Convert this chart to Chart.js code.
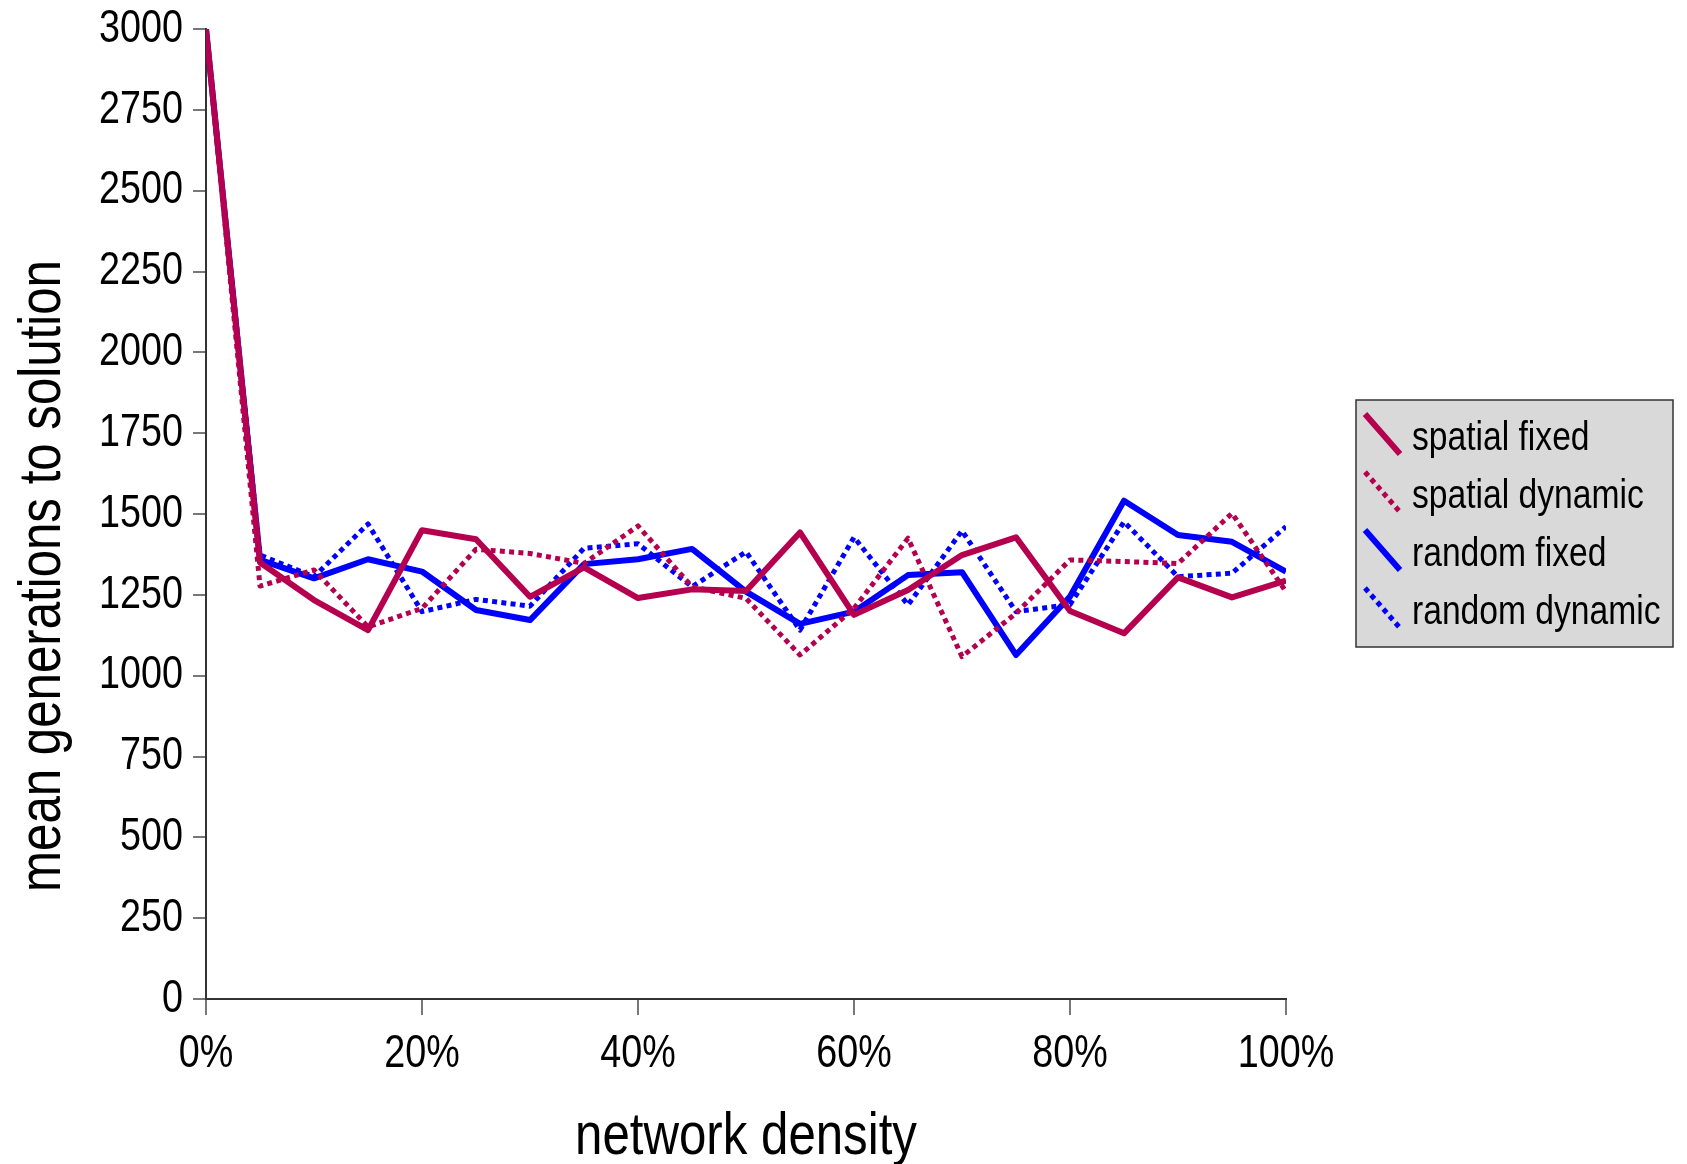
<!DOCTYPE html>
<html>
<head>
<meta charset="utf-8">
<script src="https://cdn.jsdelivr.net/npm/chart.js@4/dist/chart.umd.min.js"></script>
<style>
  html, body { margin: 0; padding: 0; background: #ffffff; }
  #wrap { width: 1687px; height: 1164px; position: relative; }
</style>
</head>
<body>
<div id="wrap"><canvas id="chart"></canvas></div>
<script>
// Network density (%) at which each run was measured
const densities = [0, 5, 10, 15, 20, 25, 30, 35, 40, 45, 50, 55, 60, 65, 70, 75, 80, 85, 90, 95, 100];

// Mean generations to solution for each network type
const spatialFixed   = [3000, 1350, 1234, 1141, 1450, 1422, 1244, 1335, 1240, 1267, 1262, 1443, 1188, 1265, 1373, 1428, 1200, 1131, 1304, 1242, 1294];
const spatialDynamic = [3000, 1277, 1327, 1151, 1208, 1391, 1378, 1347, 1463, 1275, 1239, 1064, 1208, 1425, 1059, 1193, 1358, 1353, 1347, 1502, 1260];
const randomFixed    = [3000, 1358, 1301, 1360, 1322, 1203, 1172, 1345, 1360, 1392, 1260, 1160, 1198, 1311, 1320, 1064, 1245, 1541, 1435, 1414, 1322];
const randomDynamic  = [3000, 1373, 1306, 1469, 1198, 1236, 1215, 1394, 1408, 1275, 1383, 1141, 1428, 1219, 1448, 1198, 1220, 1476, 1306, 1317, 1461];

const seriesNames = ['spatial fixed', 'spatial dynamic', 'random fixed', 'random dynamic'];
const xAxisTitle = 'network density';
const yAxisTitle = 'mean generations to solution';

const yTicksMax = 3000;
const yTicksStep = 250;
const xTicksStep = 20;

const CRIMSON = '#B4004E';
const BLUE = '#0000FF';
const FONT = "'Liberation Sans', Arial, sans-serif";
const NARROW = 0.82;   // horizontal squeeze giving a condensed face

function points(values) {
  return values.map((v, i) => ({ x: densities[i], y: v }));
}

const solidStyle  = { borderDash: [],       borderWidth: 6 };
const dottedStyle = { borderDash: [5, 4.3], borderWidth: 5 };

const datasets = [
  Object.assign({ label: seriesNames[0], data: points(spatialFixed),   borderColor: CRIMSON }, solidStyle),
  Object.assign({ label: seriesNames[1], data: points(spatialDynamic), borderColor: CRIMSON }, dottedStyle),
  Object.assign({ label: seriesNames[2], data: points(randomFixed),    borderColor: BLUE },    solidStyle),
  Object.assign({ label: seriesNames[3], data: points(randomDynamic),  borderColor: BLUE },    dottedStyle)
].map(d => Object.assign(d, {
  pointRadius: 0,
  pointHoverRadius: 0,
  tension: 0,
  fill: false,
  borderJoinStyle: 'round',
  borderCapStyle: 'butt'
}));

// Condensed text: every string drawn on this canvas is squeezed horizontally
// around its anchor point, so alignment (left/center/right) is preserved.
const canvas = document.getElementById('chart');
const ctx2d = canvas.getContext('2d');
const baseFillText = CanvasRenderingContext2D.prototype.fillText;
ctx2d.fillText = function (text, x, y, maxWidth) {
  this.save();
  this.translate(x, y);
  this.scale(NARROW, 1);
  if (maxWidth === undefined || maxWidth === null) {
    baseFillText.call(this, text, 0, 0);
  } else {
    baseFillText.call(this, text, 0, 0, maxWidth / NARROW);
  }
  this.restore();
};

// Vertical axis title, centred on the page height rather than the plot
const yTitle = {
  id: 'yTitle',
  afterDraw(chart) {
    const ctx = chart.ctx;
    ctx.save();
    ctx.translate(43, 576);
    ctx.rotate(-Math.PI / 2);
    ctx.fillStyle = '#000000';
    ctx.font = '60px ' + FONT;
    ctx.textAlign = 'center';
    ctx.textBaseline = 'middle';
    ctx.fillText(yAxisTitle, 0, 0);
    ctx.restore();
  }
};

// Boxed legend with diagonal line swatches, drawn to the right of the plot
const boxLegend = {
  id: 'boxLegend',
  afterDraw(chart) {
    const ctx = chart.ctx;
    const box = { x: 1356, y: 400, w: 317, h: 247 };
    ctx.save();
    ctx.fillStyle = '#D9D9D9';
    ctx.fillRect(box.x, box.y, box.w, box.h);
    ctx.strokeStyle = '#333333';
    ctx.lineWidth = 1.5;
    ctx.strokeRect(box.x, box.y, box.w, box.h);

    const rowStep = 58;
    chart.data.datasets.forEach((ds, i) => {
      const top = 414 + i * rowStep;
      ctx.strokeStyle = ds.borderColor;
      ctx.lineWidth = ds.borderWidth;
      ctx.setLineDash(ds.borderDash || []);
      ctx.lineCap = 'butt';
      ctx.beginPath();
      ctx.moveTo(1365, top);
      ctx.lineTo(1400, top + 40);
      ctx.stroke();
      ctx.setLineDash([]);

      ctx.fillStyle = '#000000';
      ctx.font = '41px ' + FONT;
      ctx.textAlign = 'left';
      ctx.textBaseline = 'alphabetic';
      ctx.fillText(ds.label, 1412, 450 + i * rowStep);
    });
    ctx.restore();
  }
};

new Chart(ctx2d, {
  type: 'line',
  data: { datasets },
  plugins: [yTitle, boxLegend],
  options: {
    responsive: true,
    maintainAspectRatio: false,
    animation: false,
    layout: { padding: { top: 29, right: 401, left: 0, bottom: 0 } },
    plugins: {
      legend: { display: false },
      tooltip: { enabled: false }
    },
    scales: {
      x: {
        type: 'linear',
        min: 0,
        max: 100,
        ticks: {
          stepSize: xTicksStep,
          callback: v => v + '%',
          color: '#000000',
          font: { family: FONT, size: 46 },
          padding: 12,
          maxRotation: 0
        },
        grid: {
          drawOnChartArea: false,
          drawTicks: true,
          tickLength: 16,
          color: '#777777',
          lineWidth: 2
        },
        border: { color: '#333333', width: 2 },
        title: {
          display: true,
          text: xAxisTitle,
          color: '#000000',
          font: { family: FONT, size: 60, lineHeight: 1 },
          padding: { top: 0, bottom: -3 }
        },
        afterFit(scale) { scale.height = 165; }
      },
      y: {
        min: 0,
        max: yTicksMax,
        ticks: {
          stepSize: yTicksStep,
          callback: v => String(v),
          color: '#000000',
          font: { family: FONT, size: 46, lineHeight: 0.8 },
          padding: 10
        },
        grid: {
          drawOnChartArea: false,
          drawTicks: true,
          tickLength: 13,
          color: '#777777',
          lineWidth: 2
        },
        border: { color: '#333333', width: 2 },
        title: { display: false },
        afterFit(scale) { scale.width = 206; }
      }
    }
  }
});
</script>
</body>
</html>
